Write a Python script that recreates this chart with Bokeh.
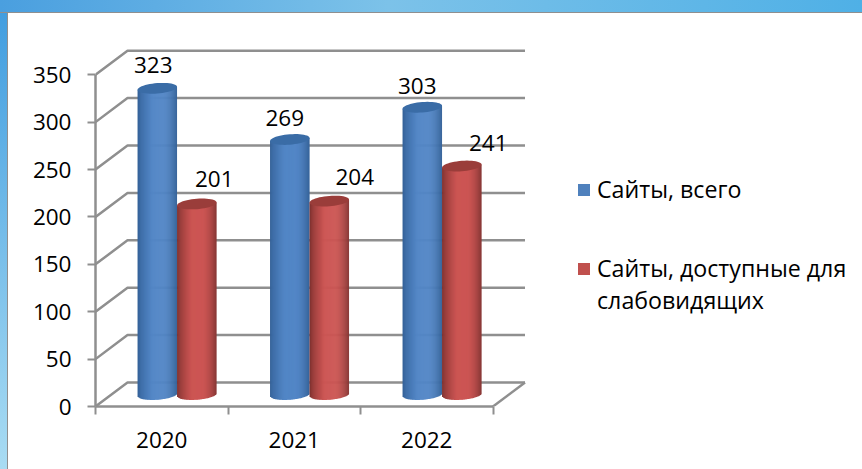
from bokeh.embed import file_html
from bokeh.resources import INLINE
from bokeh.plotting import figure
from bokeh.models import FixedTicker, Legend, LegendItem, ColumnDataSource
from bokeh.core.properties import value
import math

years = ["2020", "2021", "2022"]
total_sites = [323, 269, 303]
accessible_sites = [201, 204, 241]
y_ticks = [0, 50, 100, 150, 200, 250, 300, 350]
name_total = "Сайты, всего"
name_access = ["Сайты, доступные для", "слабовидящих"]

FONT = "Open Sans"
FS = "22.5px"
PX_X = 132.5          # px per category
PX_Y = 0.948          # px per value unit
DX = 32 / PX_X        # depth offset in x units
DY = 24 / PX_Y        # depth offset in value units
GREY = "#8f8f8f"

W, H = 862, 469
p = figure(width=W, height=H, output_backend="svg", toolbar_location=None,
           x_range=(0, (862 - 95) / PX_X), y_range=(0, 406 / PX_Y),
           min_border_left=95, min_border_right=0, min_border_top=0, min_border_bottom=63,
           border_fill_alpha=0, background_fill_alpha=0, outline_line_color=None)
p.grid.visible = False

# axes
ya = p.yaxis[0]
ya.ticker = FixedTicker(ticks=y_ticks)
ya.bounds = (0, 350)
xa = p.xaxis[0]
xa.ticker = FixedTicker(ticks=[0.5, 1.5, 2.5], minor_ticks=[0, 1, 2, 3])
xa.major_label_overrides = {0.5: years[0], 1.5: years[1], 2.5: years[2]}
xa.bounds = (0, 3)
xa.major_tick_in = 0
xa.major_tick_out = 0
xa.minor_tick_in = 0
xa.minor_tick_out = 8
xa.major_label_standoff = 17
xa.minor_tick_line_color = GREY
xa.minor_tick_line_width = 2
ya.major_tick_in = 0
ya.major_tick_out = 8
ya.minor_tick_line_color = None
ya.major_label_standoff = 16
for a in (xa, ya):
    a.axis_line_color = GREY
    a.axis_line_width = 2.5
    a.major_tick_line_color = GREY
    a.major_tick_line_width = 2
    a.major_label_text_font = FONT
    a.major_label_text_font_size = FS
    a.major_label_text_color = "#000000"

# back wall and floor
xs = [[0, DX, 3 + DX] for _ in y_ticks]
ys = [[v, v + DY, v + DY] for v in y_ticks]
p.multi_line(xs, ys, line_color=GREY, line_width=2.5)
p.line([3, 3 + DX], [0, DY], line_color=GREY, line_width=2.5)


def mix(c1, c2, t):
    return "#%02x%02x%02x" % tuple(round(a + (b - a) * t) for a, b in zip(c1, c2))


def shade(u, dark_l, mid, dark_r):
    # u from -1 to 1 across the cylinder
    if u < 0:
        return mix(dark_l, mid, min(1, (1 + u) / 0.75) ** 0.6)
    return mix(mid, dark_r, max(0, (u - 0.25) / 0.75) ** 1.8)


BW = 39.5 / PX_X
SHIFT = -0.7 / PX_X
A = BW / 2
B = 5.2 / PX_Y
TILT = 1.5 / PX_Y
N = 40

palette = [
    dict(l=(0x2f, 0x5c, 0x92), m=(0x52, 0x86, 0xc6), r=(0x35, 0x62, 0x98), cap="#3a6ca6", mid="#4f81bd"),
    dict(l=(0x74, 0x2c, 0x2a), m=(0xcc, 0x55, 0x53), r=(0x85, 0x36, 0x34), cap="#9a3d3a", mid="#c0504d"),
]
swatches = []
for s, (vals, pal) in enumerate(zip((total_sites, accessible_sites), palette)):
    for i, v in enumerate(vals):
        cx = i + 0.5 + DX / 2 + (s - 0.5) * BW + SHIFT
        v0 = DY / 2
        top = v + v0
        step = BW / N
        sl, sr, sb, st, sc = [], [], [], [], []
        for k in range(N):
            u = -1 + (2 * k + 1) / N
            xl = cx - A + k * step
            sl.append(xl)
            sr.append(min(cx + A, xl + 1.6 * step))
            sb.append(v0 - B * math.sqrt(1 - u * u) + TILT * u)
            st.append(top + TILT * u)
            sc.append(shade(u, pal["l"], pal["m"], pal["r"]))
        p.quad(left=sl, right=sr, bottom=sb, top=st, fill_color=sc, line_color=None)
        ts = [2 * math.pi * j / 48 for j in range(48)]
        p.patch([cx + A * math.cos(t) for t in ts],
                [top + B * math.sin(t) + TILT * math.cos(t) for t in ts],
                fill_color=pal["cap"], line_color=None)
    swatches.append(p.vbar(x=[-5], width=0.1, bottom=[0], top=[1], fill_color=pal["mid"], line_color=None))
blank = p.vbar(x=[-5], width=0.1, bottom=[0], top=[1], fill_alpha=0, line_color=None)

# data labels
lab_x = [i + 0.5 + DX / 2 + (s - 0.5) * 39 / PX_X for s in (0, 1) for i in range(3)]
lab_y = [v + DY / 2 for v in total_sites + accessible_sites]
lab = ColumnDataSource(dict(
    x=lab_x, y=lab_y, t=[str(v) for v in total_sites + accessible_sites],
    dx=[-5, -6, -6, 17, 25, 26], dy=[-23, -21, -21, -25, -24, -23]))
p.text("x", "y", text="t", x_offset="dx", y_offset="dy", source=lab, text_align="center",
       text_baseline="middle", text_font=value(FONT), text_font_size=FS, text_color="#000000")

# legend
LEG = dict(orientation="vertical", border_line_color=None, background_fill_alpha=0,
           label_text_font=FONT, label_text_font_size="23.2px", label_text_color="#000000",
           glyph_width=15, glyph_height=15, label_standoff=6, margin=0, padding=0, spacing=0,
           label_height=30)
p.add_layout(Legend(items=[LegendItem(label=name_total, renderers=[swatches[0]])],
                    location=(481, 201), **LEG), "center")
p.add_layout(Legend(items=[LegendItem(label=name_access[0], renderers=[swatches[1]]),
                           LegendItem(label=name_access[1], renderers=[blank])],
                    location=(481, 90), **LEG), "center")

html = file_html(p, INLINE)
css = ("<style>html,body{height:100%;}body{background:"
       "linear-gradient(90deg,#4a9fdf,#7cc2e9 45%,#4fb0e6) top left/100% 12px no-repeat,"
       "linear-gradient(#8f8f8f,#8f8f8f) top left/100% 13px no-repeat,"
       "linear-gradient(#3f9cdf,#a9dcf3) top left/7px 100% no-repeat,"
       "linear-gradient(#8f8f8f,#8f8f8f) top left/8px 100% no-repeat,"
       "#ffffff;overflow:hidden;}</style>")
html = html.replace("</head>", css + "</head>", 1)
open("out.html", "w").write(html)
